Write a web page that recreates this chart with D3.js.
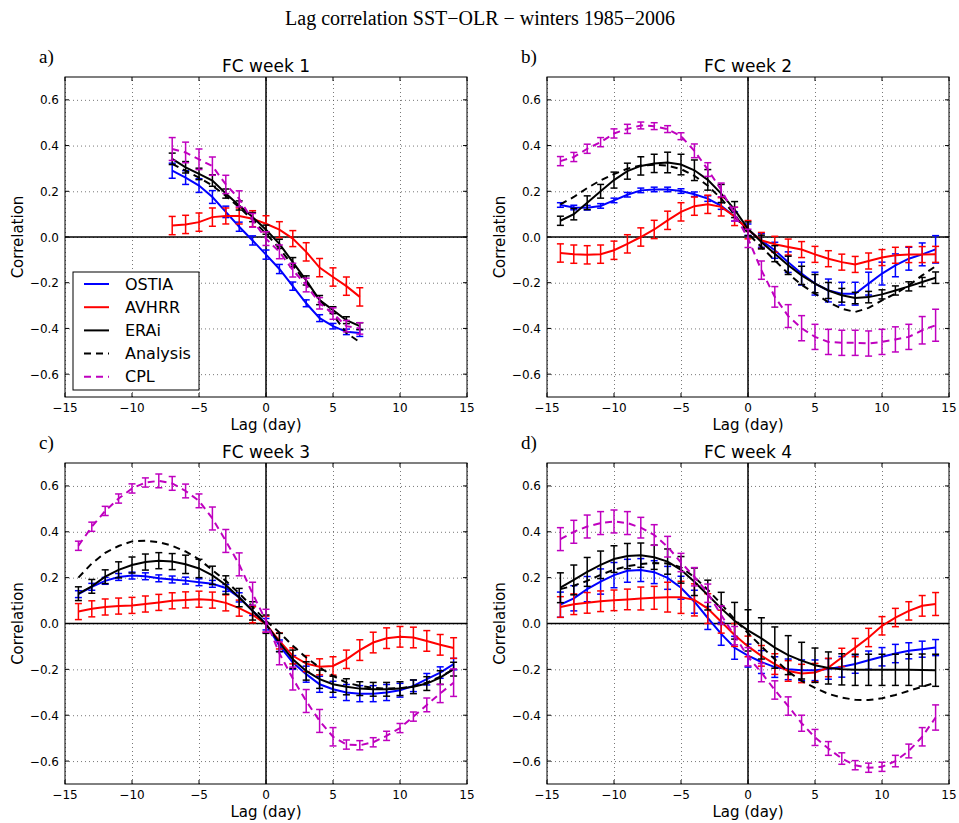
<!DOCTYPE html>
<html><head><meta charset="utf-8">
<script src="https://cdn.jsdelivr.net/npm/d3@7"></script>
<style>body{margin:0;background:#fff;} svg{display:block;}</style>
</head><body>
<svg id="chart" width="959" height="823"></svg>
<script>
// ---------- data ----------
const lagsWeek1 = [-7,-6,-5,-4,-3,-2,-1,0,1,2,3,4,5,6,7];
const lagsLong = [-14,-13,-12,-11,-10,-9,-8,-7,-6,-5,-4,-3,-2,-1,0,1,2,3,4,5,6,7,8,9,10,11,12,13,14];
const seriesNames = ["OSTIA","AVHRR","ERAi","Analysis","CPL"];
const panelTitles = ["FC week 1","FC week 2","FC week 3","FC week 4"];
const panelLetters = ["a)","b)","c)","d)"];
const xTickValues = [-15,-10,-5,0,5,10,15];
const yTickValues = [-0.6,-0.4,-0.2,0.0,0.2,0.4,0.6];
const mainTitle = "Lag correlation SST\u2212OLR \u2212 winters 1985\u22122006";

// week 1
const w1_OSTIA = [0.29,0.26,0.225,0.175,0.11,0.045,-0.015,-0.077,-0.14,-0.215,-0.29,-0.355,-0.39,-0.415,-0.42];
const w1_OSTIA_err = [0.033,0.03,0.03,0.028,0.025,0.02,0.02,0.02,0.02,0.018,0.015,0.015,0.012,0.012,0.015];
const w1_AVHRR = [0.05,0.055,0.065,0.087,0.092,0.092,0.08,0.058,0.032,-0.007,-0.065,-0.134,-0.175,-0.215,-0.262];
const w1_AVHRR_err = [0.04,0.04,0.04,0.04,0.035,0.035,0.035,0.035,0.035,0.035,0.04,0.04,0.04,0.04,0.04];
const w1_ERAi = [0.342,0.305,0.276,0.247,0.19,0.138,0.087,0.032,-0.03,-0.11,-0.19,-0.276,-0.32,-0.364,-0.39];
const w1_ERAi_err = [0.025,0.025,0.025,0.025,0.02,0.02,0.02,0.02,0.02,0.02,0.02,0.02,0.015,0.015,0.015];
const w1_Analysis = [0.32,0.29,0.26,0.225,0.18,0.13,0.075,0.015,-0.05,-0.125,-0.2,-0.275,-0.34,-0.42,-0.46];
const w1_CPL = [0.385,0.37,0.34,0.31,0.23,0.167,0.073,-0.007,-0.065,-0.145,-0.21,-0.29,-0.335,-0.39,-0.40];
const w1_CPL_err = [0.05,0.045,0.045,0.04,0.04,0.035,0.03,0.03,0.03,0.03,0.03,0.025,0.025,0.025,0.025];

// week 2
const w2_OSTIA = [0.14,0.129,0.128,0.136,0.16,0.185,0.204,0.208,0.208,0.201,0.187,0.168,0.136,0.09,0.032,-0.015,-0.058,-0.11,-0.16,-0.204,-0.234,-0.248,-0.248,-0.204,-0.16,-0.124,-0.095,-0.076,-0.054];
const w2_OSTIA_err = [0.01,0.01,0.01,0.01,0.01,0.01,0.01,0.01,0.01,0.01,0.01,0.012,0.015,0.02,0.025,0.03,0.035,0.045,0.05,0.05,0.05,0.05,0.05,0.05,0.05,0.05,0.05,0.05,0.06];
const w2_AVHRR = [-0.07,-0.075,-0.078,-0.075,-0.058,-0.03,0.0,0.033,0.073,0.11,0.135,0.143,0.132,0.09,0.032,-0.015,-0.032,-0.044,-0.055,-0.076,-0.095,-0.11,-0.12,-0.105,-0.09,-0.08,-0.077,-0.077,-0.076];
const w2_AVHRR_err = [0.04,0.04,0.04,0.04,0.04,0.04,0.04,0.04,0.04,0.04,0.04,0.04,0.04,0.04,0.04,0.035,0.035,0.035,0.035,0.035,0.035,0.035,0.035,0.035,0.035,0.035,0.035,0.035,0.035];
const w2_ERAi = [0.071,0.1,0.15,0.2,0.249,0.288,0.311,0.322,0.326,0.317,0.292,0.25,0.19,0.12,0.036,-0.022,-0.073,-0.124,-0.168,-0.204,-0.234,-0.255,-0.267,-0.263,-0.251,-0.234,-0.216,-0.197,-0.178];
const w2_ERAi_err = [0.02,0.025,0.03,0.03,0.035,0.035,0.04,0.04,0.045,0.045,0.045,0.045,0.04,0.035,0.03,0.03,0.035,0.04,0.04,0.04,0.035,0.03,0.025,0.025,0.02,0.02,0.02,0.02,0.025];
const w2_Analysis = [0.143,0.175,0.214,0.248,0.275,0.299,0.313,0.316,0.312,0.297,0.268,0.224,0.168,0.098,0.015,-0.044,-0.102,-0.16,-0.209,-0.248,-0.285,-0.314,-0.328,-0.31,-0.277,-0.248,-0.212,-0.168,-0.128];
const w2_CPL = [0.332,0.35,0.386,0.415,0.453,0.473,0.488,0.485,0.472,0.441,0.377,0.295,0.206,0.1,-0.006,-0.145,-0.262,-0.346,-0.399,-0.437,-0.459,-0.463,-0.463,-0.466,-0.459,-0.448,-0.437,-0.408,-0.386];
const w2_CPL_err = [0.02,0.02,0.02,0.02,0.02,0.02,0.015,0.015,0.015,0.015,0.03,0.03,0.03,0.03,0.04,0.04,0.045,0.05,0.055,0.055,0.055,0.055,0.055,0.055,0.055,0.055,0.055,0.06,0.07];

// week 3
const w3_OSTIA = [0.128,0.16,0.186,0.203,0.209,0.206,0.197,0.192,0.187,0.18,0.173,0.155,0.114,0.055,-0.003,-0.097,-0.17,-0.221,-0.265,-0.287,-0.301,-0.306,-0.306,-0.301,-0.291,-0.272,-0.243,-0.214,-0.177];
const w3_OSTIA_err = [0.015,0.015,0.015,0.015,0.015,0.015,0.015,0.015,0.015,0.015,0.015,0.015,0.02,0.02,0.025,0.025,0.03,0.035,0.035,0.035,0.035,0.035,0.035,0.035,0.03,0.025,0.025,0.025,0.025];
const w3_AVHRR = [0.052,0.064,0.072,0.076,0.079,0.085,0.092,0.099,0.103,0.106,0.102,0.09,0.067,0.038,-0.003,-0.076,-0.141,-0.175,-0.189,-0.185,-0.156,-0.116,-0.083,-0.064,-0.058,-0.061,-0.076,-0.093,-0.107];
const w3_AVHRR_err = [0.035,0.035,0.035,0.035,0.035,0.035,0.035,0.035,0.035,0.035,0.035,0.035,0.035,0.035,0.035,0.035,0.035,0.035,0.035,0.04,0.04,0.045,0.045,0.045,0.045,0.045,0.045,0.045,0.045];
const w3_ERAi = [0.13,0.162,0.204,0.234,0.255,0.268,0.274,0.27,0.258,0.24,0.21,0.168,0.113,0.055,-0.003,-0.083,-0.156,-0.207,-0.243,-0.265,-0.276,-0.284,-0.287,-0.287,-0.284,-0.276,-0.262,-0.236,-0.199];
const w3_ERAi_err = [0.03,0.03,0.03,0.035,0.035,0.035,0.035,0.035,0.04,0.04,0.04,0.04,0.04,0.04,0.04,0.04,0.04,0.04,0.04,0.035,0.035,0.03,0.03,0.03,0.03,0.03,0.03,0.03,0.03];
const w3_Analysis = [0.2,0.262,0.308,0.338,0.358,0.361,0.355,0.339,0.314,0.28,0.233,0.186,0.131,0.072,0.012,-0.039,-0.097,-0.148,-0.192,-0.228,-0.258,-0.272,-0.28,-0.284,-0.282,-0.274,-0.258,-0.232,-0.2];
const w3_CPL = [0.339,0.422,0.491,0.545,0.589,0.615,0.622,0.611,0.578,0.535,0.458,0.36,0.258,0.13,0.012,-0.13,-0.24,-0.338,-0.425,-0.494,-0.528,-0.531,-0.518,-0.49,-0.456,-0.406,-0.355,-0.305,-0.258];
const w3_CPL_err = [0.02,0.02,0.02,0.02,0.02,0.02,0.03,0.03,0.03,0.03,0.05,0.05,0.05,0.05,0.05,0.05,0.05,0.05,0.05,0.04,0.02,0.02,0.02,0.02,0.02,0.02,0.03,0.04,0.06];

// week 4
const w4_OSTIA = [0.082,0.11,0.15,0.183,0.211,0.23,0.233,0.224,0.199,0.156,0.095,0.024,-0.045,-0.106,-0.14,-0.168,-0.19,-0.2,-0.204,-0.204,-0.198,-0.189,-0.177,-0.16,-0.145,-0.131,-0.119,-0.112,-0.105];
const w4_OSTIA_err = [0.055,0.055,0.055,0.055,0.055,0.05,0.05,0.05,0.05,0.05,0.05,0.05,0.05,0.05,0.05,0.05,0.045,0.045,0.045,0.045,0.045,0.045,0.04,0.04,0.04,0.04,0.035,0.035,0.035];
const w4_AVHRR = [0.072,0.084,0.09,0.097,0.101,0.105,0.109,0.112,0.115,0.114,0.103,0.065,0.008,-0.05,-0.1,-0.141,-0.177,-0.207,-0.218,-0.214,-0.192,-0.148,-0.105,-0.061,-0.01,0.026,0.055,0.077,0.085];
const w4_AVHRR_err = [0.045,0.045,0.045,0.045,0.045,0.045,0.05,0.05,0.065,0.07,0.07,0.065,0.05,0.05,0.045,0.045,0.045,0.045,0.04,0.04,0.04,0.04,0.04,0.04,0.04,0.04,0.04,0.045,0.05];
const w4_ERAi = [0.156,0.19,0.225,0.256,0.281,0.294,0.298,0.289,0.27,0.234,0.182,0.124,0.066,0.012,-0.03,-0.065,-0.105,-0.138,-0.162,-0.182,-0.194,-0.2,-0.202,-0.202,-0.202,-0.202,-0.202,-0.203,-0.204];
const w4_ERAi_err = [0.065,0.065,0.063,0.06,0.058,0.055,0.053,0.053,0.055,0.058,0.06,0.065,0.07,0.08,0.09,0.09,0.09,0.085,0.08,0.075,0.07,0.068,0.068,0.068,0.068,0.068,0.068,0.07,0.07];
const w4_Analysis = [0.15,0.165,0.186,0.212,0.235,0.25,0.259,0.264,0.262,0.245,0.202,0.147,0.085,0.019,-0.042,-0.1,-0.156,-0.21,-0.25,-0.281,-0.307,-0.323,-0.333,-0.334,-0.326,-0.312,-0.294,-0.276,-0.258];
const w4_CPL = [0.368,0.4,0.423,0.438,0.445,0.438,0.418,0.386,0.335,0.266,0.204,0.132,0.037,-0.053,-0.145,-0.214,-0.29,-0.36,-0.435,-0.497,-0.545,-0.589,-0.618,-0.629,-0.625,-0.6,-0.556,-0.494,-0.41];
const w4_CPL_err = [0.05,0.05,0.05,0.05,0.05,0.05,0.045,0.045,0.045,0.04,0.04,0.04,0.04,0.04,0.04,0.04,0.04,0.04,0.035,0.035,0.03,0.025,0.02,0.02,0.02,0.025,0.03,0.04,0.055];

// ---------- assemble ----------
const panelData = [
  {lags: lagsWeek1, vals: [w1_OSTIA,w1_AVHRR,w1_ERAi,w1_Analysis,w1_CPL], errs: [w1_OSTIA_err,w1_AVHRR_err,w1_ERAi_err,null,w1_CPL_err]},
  {lags: lagsLong, vals: [w2_OSTIA,w2_AVHRR,w2_ERAi,w2_Analysis,w2_CPL], errs: [w2_OSTIA_err,w2_AVHRR_err,w2_ERAi_err,null,w2_CPL_err]},
  {lags: lagsLong, vals: [w3_OSTIA,w3_AVHRR,w3_ERAi,w3_Analysis,w3_CPL], errs: [w3_OSTIA_err,w3_AVHRR_err,w3_ERAi_err,null,w3_CPL_err]},
  {lags: lagsLong, vals: [w4_OSTIA,w4_AVHRR,w4_ERAi,w4_Analysis,w4_CPL], errs: [w4_OSTIA_err,w4_AVHRR_err,w4_ERAi_err,null,w4_CPL_err]}
];
const seriesStyle = [
  {color:"#0000ff", dash:null},
  {color:"#ff0000", dash:null},
  {color:"#000000", dash:null},
  {color:"#000000", dash:"7,5"},
  {color:"#bf00bf", dash:"7,5"}
];
const boxes = [
  {x0:65, x1:467, y0:77, y1:397},
  {x0:547, x1:949, y0:77, y1:397},
  {x0:65, x1:467, y0:463, y1:784},
  {x0:547, x1:949, y0:463, y1:784}
];

const svg = d3.select("#chart");
const sans = "'DejaVu Sans', Verdana, sans-serif";
const serif = "'Liberation Serif', 'Times New Roman', serif";

svg.append("text").attr("x", 480).attr("y", 25).attr("text-anchor","middle")
  .attr("font-family", serif).attr("font-size", 20).text(mainTitle);

const fmtY = v => (v < 0 ? "\u2212" : "") + Math.abs(v).toFixed(1);
const fmtX = v => (v < 0 ? "\u2212" : "") + Math.abs(v);

boxes.forEach((b, pi) => {
  const x = d3.scaleLinear().domain([-15, 15]).range([b.x0, b.x1]);
  const y = d3.scaleLinear().domain([-0.7, 0.7]).range([b.y1, b.y0]);
  const g = svg.append("g");
  const W = b.x1 - b.x0, H = b.y1 - b.y0;

  const cid = "clip" + pi;
  svg.append("clipPath").attr("id", cid).append("rect")
    .attr("x", b.x0).attr("y", b.y0).attr("width", W).attr("height", H);

  // grid
  g.append("g").attr("transform", `translate(0,${b.y1})`)
    .call(d3.axisBottom(x).tickValues(xTickValues).tickSize(-H).tickFormat(""))
    .call(s => s.select(".domain").remove())
    .call(s => s.selectAll("line").attr("stroke", "#555").attr("stroke-width", 0.8).attr("stroke-dasharray", "1,3"));
  g.append("g").attr("transform", `translate(${b.x0},0)`)
    .call(d3.axisLeft(y).tickValues(yTickValues).tickSize(-W).tickFormat(""))
    .call(s => s.select(".domain").remove())
    .call(s => s.selectAll("line").attr("stroke", "#555").attr("stroke-width", 0.8).attr("stroke-dasharray", "1,3"));

  // zero lines
  g.append("line").attr("x1", b.x0).attr("x2", b.x1).attr("y1", y(0)).attr("y2", y(0))
    .attr("stroke", "#000").attr("stroke-width", 1.5);
  g.append("line").attr("x1", x(0)).attr("x2", x(0)).attr("y1", b.y0).attr("y2", b.y1)
    .attr("stroke", "#000").attr("stroke-width", 1.5);

  // series
  const pd = panelData[pi];
  const plot = g.append("g").attr("clip-path", `url(#${cid})`);
  pd.vals.forEach((vals, si) => {
    const st = seriesStyle[si];
    const pts = pd.lags.map((l, i) => [l, vals[i]]);
    const errs = pd.errs[si];
    if (errs) {
      const eg = plot.append("g").attr("stroke", st.color).attr("stroke-width", 1.5);
      pts.forEach((p, i) => {
        const cx = x(p[0]), top = y(p[1] + errs[i]), bot = y(p[1] - errs[i]);
        eg.append("line").attr("x1", cx).attr("x2", cx).attr("y1", top).attr("y2", bot);
        eg.append("line").attr("x1", cx - 3.5).attr("x2", cx + 3.5).attr("y1", top).attr("y2", top);
        eg.append("line").attr("x1", cx - 3.5).attr("x2", cx + 3.5).attr("y1", bot).attr("y2", bot);
      });
    }
    const line = d3.line().x(d => x(d[0])).y(d => y(d[1]));
    plot.append("path").attr("d", line(pts)).attr("fill", "none")
      .attr("stroke", st.color).attr("stroke-width", 2)
      .attr("stroke-dasharray", st.dash);
  });

  // frame
  g.append("rect").attr("x", b.x0).attr("y", b.y0).attr("width", W).attr("height", H)
    .attr("fill", "none").attr("stroke", "#000").attr("stroke-width", 1);

  // ticks (inward, all sides) + labels
  const ax = g.append("g").attr("stroke", "#000").attr("stroke-width", 1);
  xTickValues.forEach(v => {
    ax.append("line").attr("x1", x(v)).attr("x2", x(v)).attr("y1", b.y1).attr("y2", b.y1 - 4);
    ax.append("line").attr("x1", x(v)).attr("x2", x(v)).attr("y1", b.y0).attr("y2", b.y0 + 4);
  });
  yTickValues.forEach(v => {
    ax.append("line").attr("x1", b.x0).attr("x2", b.x0 + 4).attr("y1", y(v)).attr("y2", y(v));
    ax.append("line").attr("x1", b.x1).attr("x2", b.x1 - 4).attr("y1", y(v)).attr("y2", y(v));
  });
  g.append("g").selectAll("text").data(xTickValues).join("text")
    .attr("x", d => x(d)).attr("y", b.y1 + 15).attr("text-anchor", "middle")
    .attr("font-family", sans).attr("font-size", 12).text(fmtX);
  g.append("g").selectAll("text").data(yTickValues).join("text")
    .attr("x", b.x0 - 6).attr("y", d => y(d) + 4.5).attr("text-anchor", "end")
    .attr("font-family", sans).attr("font-size", 12).text(fmtY);

  // axis titles
  g.append("text").attr("x", (b.x0 + b.x1) / 2).attr("y", b.y1 + 33).attr("text-anchor", "middle")
    .attr("font-family", sans).attr("font-size", 15).text("Lag (day)");
  g.append("text").attr("transform", `translate(${b.x0 - 42},${(b.y0 + b.y1) / 2}) rotate(-90)`)
    .attr("text-anchor", "middle").attr("font-family", sans).attr("font-size", 15).text("Correlation");

  // panel title and letter
  g.append("text").attr("x", (b.x0 + b.x1) / 2).attr("y", b.y0 - 5).attr("text-anchor", "middle")
    .attr("font-family", sans).attr("font-size", 17).text(panelTitles[pi]);
  g.append("text").attr("x", b.x0 - 26).attr("y", b.y0 - 14)
    .attr("font-family", serif).attr("font-size", 19).text(panelLetters[pi]);

  // legend on first panel
  if (pi === 0) {
    const lg = g.append("g");
    lg.append("rect").attr("x", 73).attr("y", 272).attr("width", 126).attr("height", 118)
      .attr("fill", "#fff").attr("stroke", "#000").attr("stroke-width", 1);
    seriesNames.forEach((name, si) => {
      const yy = 284 + si * 23.2;
      const st = seriesStyle[si];
      lg.append("line").attr("x1", 84).attr("x2", 109).attr("y1", yy).attr("y2", yy)
        .attr("stroke", st.color).attr("stroke-width", 2).attr("stroke-dasharray", st.dash);
      lg.append("text").attr("x", 125).attr("y", yy + 5.5).attr("font-family", sans)
        .attr("font-size", 16).text(name);
    });
  }
});
</script>
</body></html>
